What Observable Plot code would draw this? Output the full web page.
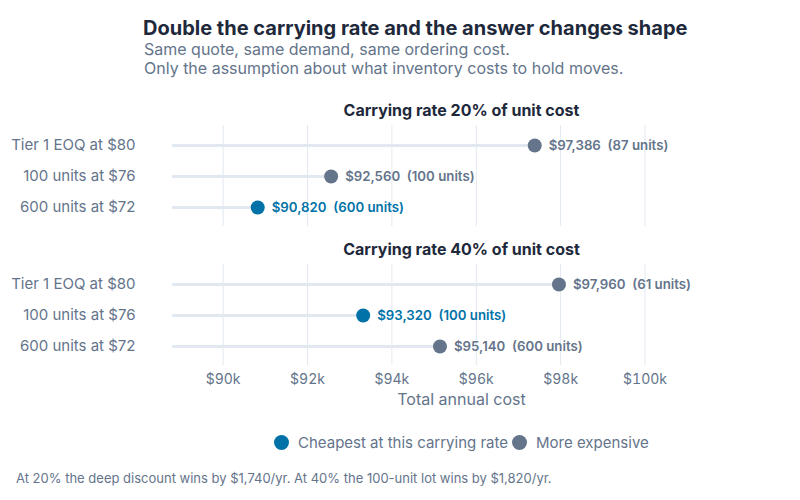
<!DOCTYPE html>
<html>
<head>
<meta charset="utf-8">
<script src="https://cdn.jsdelivr.net/npm/d3@7"></script>
<script src="https://cdn.jsdelivr.net/npm/@observablehq/plot@0.6"></script>
<style>
  html, body { margin: 0; padding: 0; background: #fff; }
  body { width: 800px; height: 500px; position: relative; font-family: Inter, "Noto Sans", sans-serif; overflow: hidden; }
  .title { position: absolute; left: 143px; top: 16px; font-size: 20px; line-height: 24px; font-weight: 700; color: #1e293b; white-space: nowrap; }
  .subtitle { position: absolute; left: 144px; top: 40px; font-size: 16px; line-height: 19px; color: #64748b; white-space: nowrap; }
  #chart { position: absolute; left: 0; top: 90px; }
  #chart g[aria-label="x-axis label"] text { font-size: 16px; }
  .legend { position: absolute; left: 274px; top: 432px; height: 20px; display: flex; align-items: center; font-size: 15px; color: #64748b; white-space: nowrap; }
  .legend .sw { display: inline-block; width: 15px; height: 15px; border-radius: 50%; margin-right: 9px; }
  .legend .item { display: flex; align-items: center; margin-right: 4px; }
  .caption { position: absolute; left: 16px; top: 470px; font-size: 13px; line-height: 16px; color: #64748b; white-space: nowrap; }
</style>
</head>
<body>
<div class="title">Double the carrying rate and the answer changes shape</div>
<div class="subtitle">Same quote, same demand, same ordering cost.<br>Only the assumption about what inventory costs to hold moves.</div>
<div id="chart"></div>
<div class="legend" id="legend"></div>
<div class="caption">At 20% the deep discount wins by $1,740/yr. At 40% the 100-unit lot wins by $1,820/yr.</div>
<script>
// Ordering options compared under two carrying-rate assumptions
const rates = ["Carrying rate 20% of unit cost", "Carrying rate 40% of unit cost"];
const options = ["Tier 1 EOQ at $80", "100 units at $76", "600 units at $72"];
const cost20 = [97386, 92560, 90820];
const units20 = [87, 100, 600];
const cost40 = [97960, 93320, 95140];
const units40 = [61, 100, 600];
const cheapest = ["600 units at $72", "100 units at $76"]; // winner per rate
const xTicks = [90000, 92000, 94000, 96000, 98000, 100000];
const legendLabels = ["Cheapest at this carrying rate", "More expensive"];

const BLUE = "#0072a8";
const GRAY = "#64748b";
const LIGHT = "#e2e8f0";
const xMin = 88800, xMax = 102500;

const rows = [];
[[cost20, units20], [cost40, units40]].forEach(([costs, units], r) => {
  options.forEach((opt, i) => {
    rows.push({
      rate: rates[r],
      option: opt,
      cost: costs[i],
      units: units[i],
      best: cheapest[r] === opt
    });
  });
});

const fmt = d3.format("$,");
const chart = Plot.plot({
  width: 800,
  height: 320,
  marginLeft: 172,
  marginRight: 50,
  marginTop: 34,
  marginBottom: 44,
  style: { fontFamily: "Inter, 'Noto Sans', sans-serif", fontSize: "14px", color: GRAY, background: "transparent" },
  x: {
    domain: [xMin, xMax],
    ticks: xTicks,
    tickFormat: d => `$${d / 1000}k`,
    tickSize: 0,
    tickPadding: 9,
    label: "Total annual cost",
    labelAnchor: "center",
    labelArrow: "none",
    labelOffset: 39
  },
  y: { type: "point", domain: options, label: null, tickSize: 0, tickPadding: 37, padding: 0.594, fontSize: 15 },
  fy: { domain: rates, axis: null, paddingInner: 0.2714, paddingOuter: 0 },
  marks: [
    Plot.gridX(xTicks, { stroke: LIGHT, strokeOpacity: 1, strokeWidth: 1 }),
    Plot.ruleY(rows, { fy: "rate", y: "option", x1: xMin, x2: "cost", stroke: LIGHT, strokeWidth: 3 }),
    Plot.dot(rows, { fy: "rate", y: "option", x: "cost", r: 7, fill: d => d.best ? BLUE : GRAY, stroke: null }),
    Plot.text(rows, {
      fy: "rate", y: "option", x: "cost",
      text: d => `${fmt(d.cost)}\u00a0\u00a0(${d.units} units)`,
      dx: 14, textAnchor: "start", fontSize: 13.25, fontWeight: 600,
      fill: d => d.best ? BLUE : GRAY
    }),
    Plot.text(rates, {
      fy: d => d, text: d => d, frameAnchor: "top", dy: -15, lineAnchor: "middle",
      fontSize: 16, fontWeight: 700, fill: "#1e293b"
    })
  ]
});
document.getElementById("chart").appendChild(chart);
// Larger type for the option labels on the y axis
chart.querySelectorAll('g[aria-label="y-axis tick label"]').forEach(g => g.setAttribute("font-size", 15));

// Legend
const legend = document.getElementById("legend");
[[legendLabels[0], BLUE], [legendLabels[1], GRAY]].forEach(([label, color]) => {
  const item = document.createElement("span");
  item.className = "item";
  const sw = document.createElement("span");
  sw.className = "sw";
  sw.style.background = color;
  item.appendChild(sw);
  item.appendChild(document.createTextNode(label));
  legend.appendChild(item);
});
</script>
</body>
</html>
